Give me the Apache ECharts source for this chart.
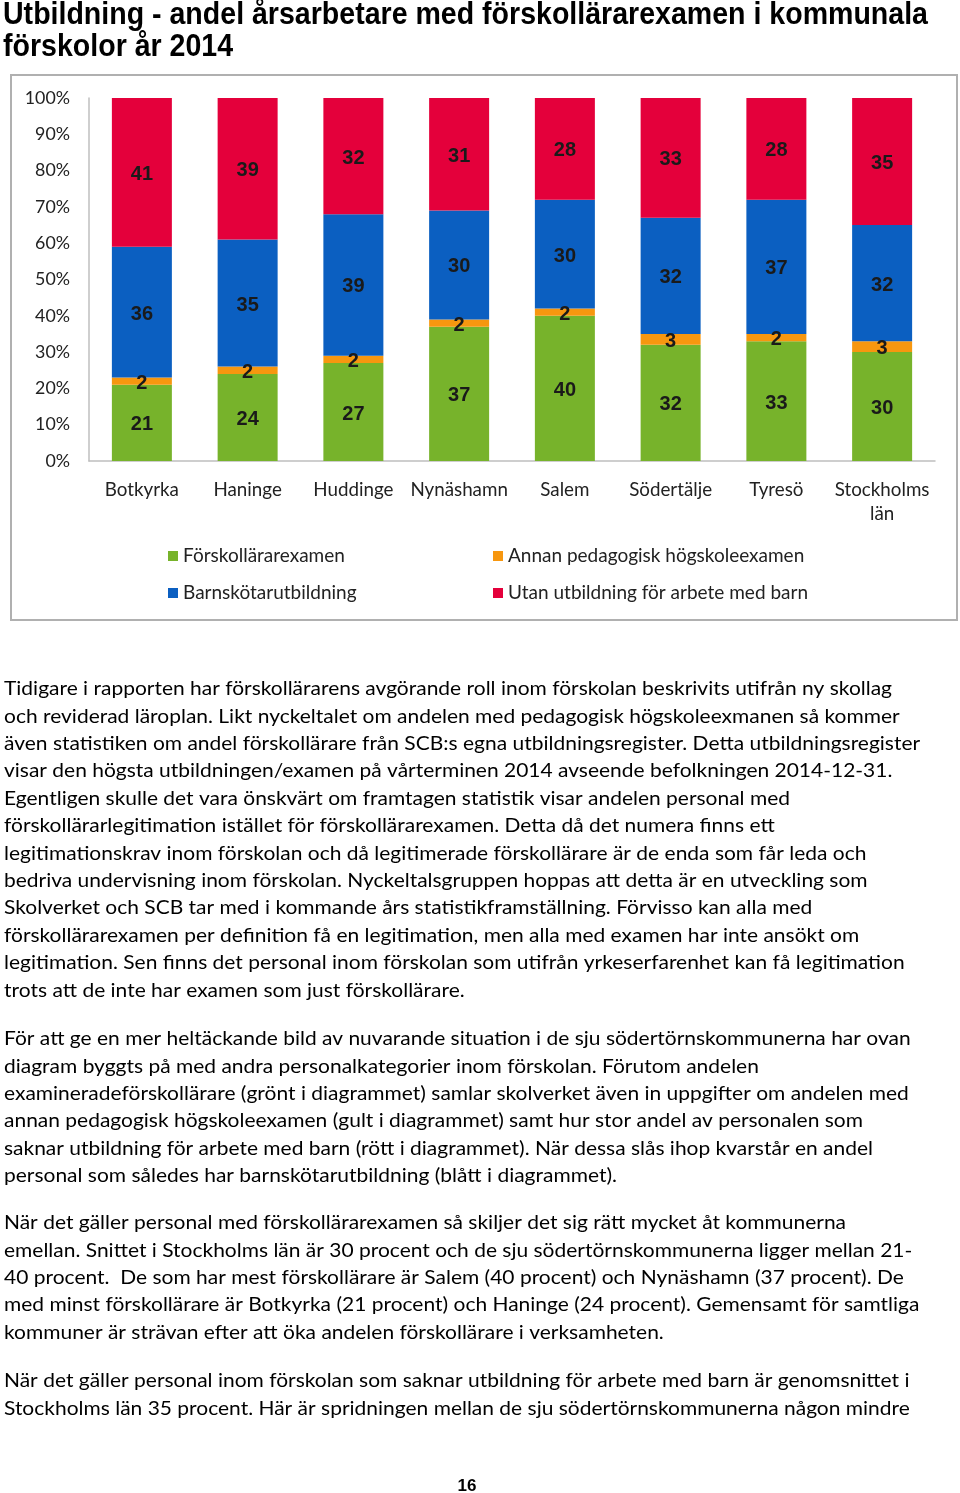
<!DOCTYPE html>
<html>
<head>
<meta charset="utf-8">
<script src="https://cdn.jsdelivr.net/npm/echarts@6/dist/echarts.min.js"></script>
<style>
html,body{margin:0;padding:0;background:#fff;}
#chart{width:960px;height:1493px;}
</style>
</head>
<body>
<div id="chart"></div>
<script>
// ---- data ----
const categories = ['Botkyrka','Haninge','Huddinge','Nynäshamn','Salem','Södertälje','Tyresö','Stockholms\nlän'];
const forskollararexamen = [21,24,27,37,40,32,33,30];
const annanPedagogisk = [2,2,2,2,2,3,2,3];
const barnskotarutbildning = [36,35,39,30,30,32,37,32];
const utanUtbildning = [41,39,32,31,28,33,28,35];
const seriesNames = ['Förskollärarexamen','Annan pedagogisk högskoleexamen','Barnskötarutbildning','Utan utbildning för arbete med barn'];
const seriesColors = ['#77b32b','#f7970f','#0b5fc1','#e4003b'];

const titleLines = ['Utbildning - andel årsarbetare med förskollärarexamen i kommunala','förskolor år 2014'];
const paragraphs = [
  {y:689, lines:[
    'Tidigare i rapporten har förskollärarens avgörande roll inom förskolan beskrivits utifrån ny skollag',
    'och reviderad läroplan. Likt nyckeltalet om andelen med pedagogisk högskoleexmanen så kommer',
    'även statistiken om andel förskollärare från SCB:s egna utbildningsregister. Detta utbildningsregister',
    'visar den högsta utbildningen/examen på vårterminen 2014 avseende befolkningen 2014-12-31.',
    'Egentligen skulle det vara önskvärt om framtagen statistik visar andelen personal med',
    'förskollärarlegitimation istället för förskollärarexamen. Detta då det numera finns ett',
    'legitimationskrav inom förskolan och då legitimerade förskollärare är de enda som får leda och',
    'bedriva undervisning inom förskolan. Nyckeltalsgruppen hoppas att detta är en utveckling som',
    'Skolverket och SCB tar med i kommande års statistikframställning. Förvisso kan alla med',
    'förskollärarexamen per definition få en legitimation, men alla med examen har inte ansökt om',
    'legitimation. Sen finns det personal inom förskolan som utifrån yrkeserfarenhet kan få legitimation',
    'trots att de inte har examen som just förskollärare.'
  ]},
  {y:1039, lines:[
    'För att ge en mer heltäckande bild av nuvarande situation i de sju södertörnskommunerna har ovan',
    'diagram byggts på med andra personalkategorier inom förskolan. Förutom andelen',
    'examineradeförskollärare (grönt i diagrammet) samlar skolverket även in uppgifter om andelen med',
    'annan pedagogisk högskoleexamen (gult i diagrammet) samt hur stor andel av personalen som',
    'saknar utbildning för arbete med barn (rött i diagrammet). När dessa slås ihop kvarstår en andel',
    'personal som således har barnskötarutbildning (blått i diagrammet).'
  ]},
  {y:1223, lines:[
    'När det gäller personal med förskollärarexamen så skiljer det sig rätt mycket åt kommunerna',
    'emellan. Snittet i Stockholms län är 30 procent och de sju södertörnskommunerna ligger mellan 21-',
    '40 procent.  De som har mest förskollärare är Salem (40 procent) och Nynäshamn (37 procent). De',
    'med minst förskollärare är Botkyrka (21 procent) och Haninge (24 procent). Gemensamt för samtliga',
    'kommuner är strävan efter att öka andelen förskollärare i verksamheten.'
  ]},
  {y:1381, lines:[
    'När det gäller personal inom förskolan som saknar utbildning för arbete med barn är genomsnittet i',
    'Stockholms län 35 procent. Här är spridningen mellan de sju södertörnskommunerna någon mindre'
  ]}
];
const pageNumber = '16';

function measure(font, text){
  const c = document.createElement('canvas').getContext('2d');
  c.font = font;
  return c.measureText(text).width;
}

function build(){
  const bodyFont = '19px Lato';
  const bodyScale = 888 / measure(bodyFont, paragraphs[0].lines[0]);
  const titleFont = 'bold 31px "Liberation Sans"';
  const titleScale = 925 / measure(titleFont, titleLines[0]);
  const graphics = [];
  titleLines.forEach((t,i)=>{
    graphics.push({type:'text', x:3, y:15+i*32.5, scaleX:titleScale, originX:0,
      style:{text:t, font:titleFont, fill:'#000', align:'left', verticalAlign:'middle'}});
  });
  graphics.push({type:'rect', shape:{x:11,y:75,width:946,height:545},
    style:{fill:'none', stroke:'#b0b0b0', lineWidth:2}, z:-1});
  paragraphs.forEach(p=>{
    p.lines.forEach((t,i)=>{
      graphics.push({type:'text', x:4, y:p.y + i*27.4, scaleX:bodyScale, originX:0,
        style:{text:t, font:bodyFont, fill:'#000', align:'left', verticalAlign:'middle'}});
    });
  });
  graphics.push({type:'text', x:467, y:1486,
    style:{text:pageNumber, font:'bold 17px "Liberation Sans"', fill:'#000', align:'center', verticalAlign:'middle'}});

  const dataArrays = [forskollararexamen, annanPedagogisk, barnskotarutbildning, utanUtbildning];
  const series = dataArrays.map((d,i)=>({
    name: seriesNames[i], type:'bar', stack:'total', data:d, barWidth:60,
    itemStyle:{color:seriesColors[i]},
    label:{show:true, position:'inside', offset:[0,2], color:'#1a1a1a', fontFamily:'"Liberation Sans"', fontWeight:'bold', fontSize:20},
    emphasis:{disabled:true}
  }));

  const legendText = {fontFamily:'Lato', fontSize:19, color:'#222', lineHeight:20};
  const chart = echarts.init(document.getElementById('chart'), null, {renderer:'canvas'});
  chart.setOption({
    animation:false,
    backgroundColor:'#fff',
    grid:{left:89, right:25, top:98, bottom:1032, containLabel:false},
    legend:[
      {data:[seriesNames[0], seriesNames[2]], orient:'vertical', left:163, top:541, itemWidth:10, itemHeight:10, itemGap:17, icon:'rect', textStyle:legendText, selectedMode:false},
      {data:[seriesNames[1], seriesNames[3]], orient:'vertical', left:488, top:541, itemWidth:10, itemHeight:10, itemGap:17, icon:'rect', textStyle:legendText, selectedMode:false}
    ],
    xAxis:{type:'category', data:categories,
      axisLine:{lineStyle:{color:'#bfbfbf', width:1.5}}, axisTick:{show:false},
      axisLabel:{fontFamily:'Lato', fontSize:18.8, color:'#222', margin:17, lineHeight:24, interval:0}},
    yAxis:{type:'value', min:0, max:100, interval:10,
      axisLine:{show:true, lineStyle:{color:'#bfbfbf', width:1.5}}, axisTick:{show:false}, splitLine:{show:false},
      axisLabel:{formatter:'{value}%', fontFamily:'Lato', fontSize:17.8, color:'#222', margin:19}},
    series:series,
    graphic:graphics
  });
}
if (document.fonts && document.fonts.load) {
  Promise.all([document.fonts.load('19px Lato'), document.fonts.load('bold 31px "Liberation Sans"')]).then(build, build);
} else build();
</script>
</body>
</html>
